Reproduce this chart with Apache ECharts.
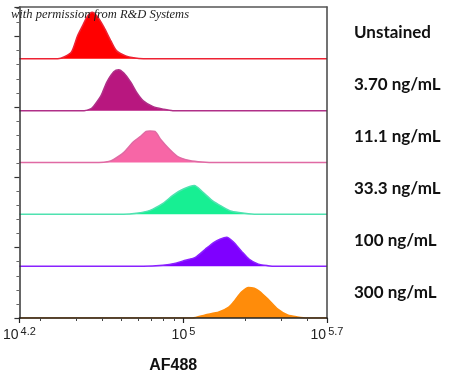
<!DOCTYPE html>
<html><head><meta charset="utf-8">
<script src="https://cdn.jsdelivr.net/npm/echarts@6/dist/echarts.min.js"></script>
<style>html,body{margin:0;padding:0;background:#fff}#c{width:450px;height:379px}</style>
</head><body><div id="c"></div>
<script>
// Panel labels, top to bottom
const labels = ['Unstained', '3.70 ng/mL', '11.1 ng/mL', '33.3 ng/mL', '100 ng/mL', '300 ng/mL'];
const colors = ['#ff0000', '#b8177f', '#f766a6', '#17ef93', '#7f00ff', '#ff8c0a'];
const lineColors = ['#ee2233', '#b03088', '#e06aa4', '#4fe2b0', '#8a22ff', '#ff8c0a'];
// x = log10(AF488 intensity), y = relative cell count (fraction of panel height)
const xUnstained = [4.325, 4.387, 4.420, 4.454, 4.483, 4.507, 4.531, 4.555, 4.579, 4.612, 4.646, 4.674, 4.718, 4.756, 4.804];
const yUnstained = [0, 0, 0.04, 0.134, 0.44, 0.63, 0.82, 0.90, 0.82, 0.61, 0.345, 0.153, 0.058, 0.02, 0];
const x370 = [4.516, 4.550, 4.564, 4.598, 4.627, 4.660, 4.684, 4.708, 4.742, 4.770, 4.804, 4.852, 4.900, 4.948];
const y370 = [0, 0.04, 0.096, 0.29, 0.556, 0.75, 0.79, 0.73, 0.556, 0.364, 0.19, 0.077, 0.03, 0];
const x111 = [4.588, 4.636, 4.660, 4.708, 4.756, 4.789, 4.818, 4.837, 4.861, 4.890, 4.933, 4.972, 5.029, 5.091, 5.163];
const y111 = [0, 0.02, 0.058, 0.19, 0.40, 0.50, 0.60, 0.61, 0.60, 0.44, 0.25, 0.115, 0.04, 0.01, 0];
const x333 = [4.708, 4.770, 4.837, 4.900, 4.948, 4.995, 5.053, 5.091, 5.139, 5.187, 5.235, 5.297, 5.355];
const y333 = [0, 0.02, 0.077, 0.21, 0.364, 0.48, 0.556, 0.44, 0.27, 0.153, 0.058, 0.02, 0];
const x100 = [4.804, 4.900, 4.962, 5.010, 5.058, 5.106, 5.149, 5.178, 5.211, 5.245, 5.283, 5.321, 5.365, 5.412, 5.451];
const y100 = [0, 0.02, 0.058, 0.115, 0.17, 0.326, 0.46, 0.52, 0.556, 0.46, 0.29, 0.134, 0.04, 0.01, 0];
const x300 = [5.043, 5.106, 5.173, 5.221, 5.249, 5.283, 5.317, 5.345, 5.369, 5.412, 5.460, 5.508, 5.556, 5.604];
const y300 = [0, 0.06, 0.115, 0.21, 0.33, 0.50, 0.59, 0.575, 0.52, 0.364, 0.17, 0.058, 0.02, 0];
// Axis ticks (log10 units)
const xMin = 4.2, xMax = 5.7;
const majorTicks = [4.2, 5, 5.7];
const majorTickLabels = ['4.2', '5', '5.7'];
const minorMultiples = [2, 3, 4, 5, 6, 7, 8, 9];
const minorDecades = [4, 5];

const xs = [xUnstained, x370, x111, x333, x100, x300];
const ys = [yUnstained, y370, y111, y333, y100, y300];
const minorTicks = [];
minorDecades.forEach(d => minorMultiples.forEach(m => {
  const v = d + Math.log10(m);
  if (v > xMin && v < xMax - 0.005) minorTicks.push(v);
}));

const n = labels.length;
const series = labels.map((name, i) => {
  const base = n - 1 - i;
  const data = [[xMin, base]];
  xs[i].forEach((x, k) => data.push([x, base + ys[i][k]]));
  data.push([xMax, base]);
  return {
    name, type: 'line', xAxisIndex: 0, yAxisIndex: 0,
    data, showSymbol: false, smooth: 0.25, silent: true,
    lineStyle: { color: lineColors[i], width: 1.5 },
    itemStyle: { color: colors[i] },
    areaStyle: { color: colors[i], opacity: 1, origin: base },
    z: 2
  };
});

const chart = echarts.init(document.getElementById('c'), null, { renderer: 'canvas' });
chart.setOption({
  animation: false,
  grid: { left: 14, right: 123, top: 7, bottom: 59 },
  xAxis: [
    {
      type: 'value', min: xMin, max: xMax, position: 'bottom', z: 5,
      name: 'AF488', nameLocation: 'middle', nameGap: 40,
      nameTextStyle: { fontFamily: 'Liberation Sans', fontWeight: 'bold', fontSize: 16, color: '#111' },
      axisLine: { show: true, lineStyle: { color: '#222', width: 1.5 } },
      axisTick: { show: true, length: 5, customValues: majorTicks, lineStyle: { color: '#222', width: 1.2 } },
      axisLabel: {
        customValues: majorTicks, margin: 8, color: '#222',
        formatter: v => {
          const idx = majorTicks.findIndex(t => Math.abs(t - v) < 1e-6);
          return '{b|10}{s|' + (idx >= 0 ? majorTickLabels[idx] : '') + '}';
        },
        rich: {
          b: { fontFamily: 'Liberation Sans', fontSize: 14, color: '#222' },
          s: { fontFamily: 'Liberation Sans', fontSize: 11, color: '#222', padding: [0, 0, 8, 2] }
        }
      },
      splitLine: { show: false }
    },
    {
      type: 'value', min: xMin, max: xMax, position: 'bottom', z: 5,
      axisLine: { show: false },
      axisTick: { show: true, length: 3, customValues: minorTicks, lineStyle: { color: '#444', width: 1 } },
      axisLabel: { show: false }, splitLine: { show: false }
    },
    {
      type: 'value', min: xMin, max: xMax, position: 'top', z: 5,
      axisLine: { show: true, lineStyle: { color: '#555', width: 1.5 } },
      axisTick: { show: false }, axisLabel: { show: false }, splitLine: { show: false }
    }
  ],
  yAxis: [
    { type: 'value', min: 0, max: n, show: false },
    {
      type: 'value', min: 0, max: 4.42, interval: 1, position: 'left', z: 5,
      axisLine: { show: true, lineStyle: { color: '#333', width: 1.5 } },
      axisTick: { show: true, length: 5, lineStyle: { color: '#333', width: 1.2 } },
      minorTick: { show: true, splitNumber: 5, length: 3, lineStyle: { color: '#666' } },
      axisLabel: { show: false }, splitLine: { show: false }, minorSplitLine: { show: false }
    },
    {
      type: 'category', data: labels, inverse: true, position: 'right', z: 5,
      axisLine: { show: true, lineStyle: { color: '#444', width: 1.5 } },
      axisTick: { show: false },
      axisLabel: {
        margin: 27, align: 'left', color: '#111', verticalAlign: 'middle',
        padding: [0, 0, 3, 0],
        fontFamily: 'Lato', fontWeight: 'bold', fontSize: 17
      },
      splitLine: { show: false }
    }
  ],
  graphic: [{
    type: 'text', left: 11, top: 8, z: 10,
    style: {
      text: 'with permission from R&D Systems',
      font: 'italic 12.5px "Liberation Serif"', fill: '#222'
    }
  }],
  series
});
</script></body></html>
